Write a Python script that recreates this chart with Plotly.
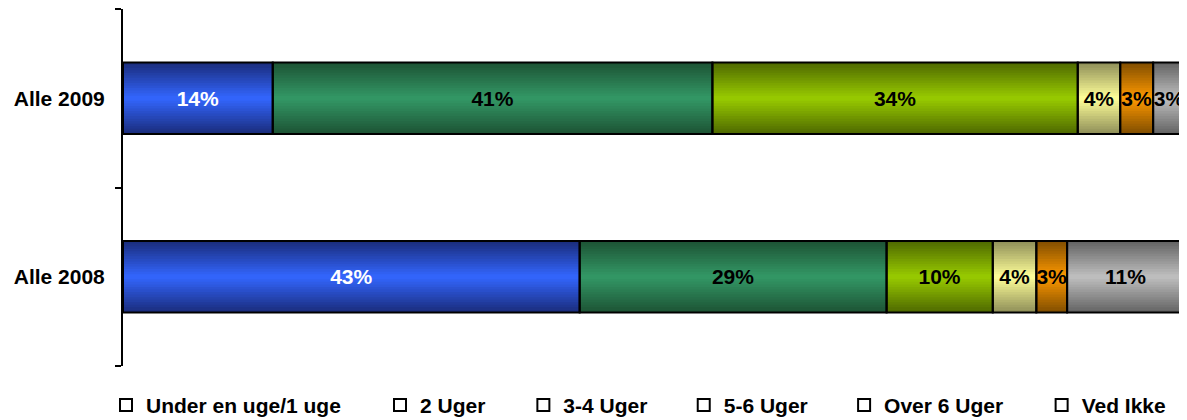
import plotly.graph_objects as go

categories = ["Alle 2008", "Alle 2009"]
series = ["Under en uge/1 uge", "2 Uger", "3-4 Uger", "5-6 Uger", "Over 6 Uger", "Ved Ikke"]
# values per series, ordered as categories (2008, 2009)
under_1_uge = [43.0, 14.1]
uger_2 = [28.9, 41.4]
uger_3_4 = [10.0, 34.4]
uger_5_6 = [4.1, 4.0]
over_6_uger = [2.9, 3.1]
ved_ikke = [11.0, 3.0]
values = [under_1_uge, uger_2, uger_3_4, uger_5_6, over_6_uger, ved_ikke]

# centre colour / edge colour of each gradient fill
centre = ["#3366ff", "#339966", "#99cc00", "#ffff99", "#ff9900", "#c0c0c0"]
edge = ["#1a2c7a", "#1d5234", "#4e6800", "#8e8e58", "#7f4d00", "#626262"]
text_col = ["white", "black", "black", "black", "black", "black"]
# legend entry positions (paper x) - the original spaces them unevenly
legend_x = [-0.016, 0.242, 0.377, 0.528, 0.679, 0.865]

FONT = "Arial, 'Liberation Sans', sans-serif"
BAR_W = 0.4
LAYERS = 14


def _rgb(h):
    h = h.lstrip("#")
    return [int(h[i:i + 2], 16) for i in (0, 2, 4)]


def _mix(a, b, t):
    a, b = _rgb(a), _rgb(b)
    return "rgb(%d,%d,%d)" % tuple(round(x + (y - x) * t) for x, y in zip(a, b))


fig = go.Figure()

bases = []
run = [0.0, 0.0]
for v in values:
    bases.append(list(run))
    run = [r + x for r, x in zip(run, v)]

# gradient: stacked layers of shrinking width, dark at the edges, light in the middle
for i, v in enumerate(values):
    for k in range(LAYERS):
        w = BAR_W * (1 - k / LAYERS)
        d = 1 - (k + 0.5) / LAYERS
        fig.add_bar(y=categories, x=v, base=bases[i], orientation="h", width=w,
                    marker=dict(color=_mix(centre[i], edge[i], d), line_width=0),
                    showlegend=False, hoverinfo="skip", cliponaxis=False)

# outlines + labels
for i, v in enumerate(values):
    fig.add_bar(y=categories, x=v, base=bases[i], orientation="h", width=BAR_W,
                marker=dict(color="rgba(0,0,0,0)", line=dict(color="black", width=2)),
                texttemplate="%{x:.0f}%", textposition="inside", insidetextanchor="middle",
                textangle=0, constraintext="none", cliponaxis=False,
                textfont=dict(family=FONT, size=21, color=text_col[i], weight="bold"),
                showlegend=False, name=series[i],
                hovertemplate="%{y} · " + series[i] + ": %{x:.0f}%<extra></extra>")

# legend keys drawn as hollow squares like the original, one legend box each
legends = {}
for i, s in enumerate(series):
    key = "legend" if i == 0 else f"legend{i + 1}"
    fig.add_scatter(x=[None], y=[None], mode="markers", name=s, legend=key,
                    marker=dict(symbol="square", size=12, color="white",
                                line=dict(color="black", width=2)))
    legends[key] = dict(orientation="h", x=legend_x[i], xanchor="left",
                        y=-0.11, yanchor="middle", itemwidth=30, bgcolor="rgba(0,0,0,0)",
                        font=dict(family=FONT, size=21, color="black", weight="bold"))

# the page adds an 8px body margin, so the figure is 8px smaller each way
fig.update_layout(
    width=1179, height=412, barmode="overlay",
    margin=dict(l=115, r=2, t=1, b=54, autoexpand=False),
    plot_bgcolor="white", paper_bgcolor="white",
    font=dict(family=FONT, size=21, color="black"),
    **legends,
)
fig.update_xaxes(range=[0, 100], visible=False, fixedrange=True)
fig.update_yaxes(type="category", categoryorder="array", categoryarray=categories,
                 range=[-0.5, 1.5], showline=True, linecolor="black", linewidth=2,
                 ticks="outside", tickson="boundaries", ticklen=6, tickwidth=2,
                 tickcolor="black", showgrid=False, zeroline=False,
                 tickfont=dict(family=FONT, size=21, color="black", weight="bold"),
                 ticklabelstandoff=12)

fig.write_html("out.html")
